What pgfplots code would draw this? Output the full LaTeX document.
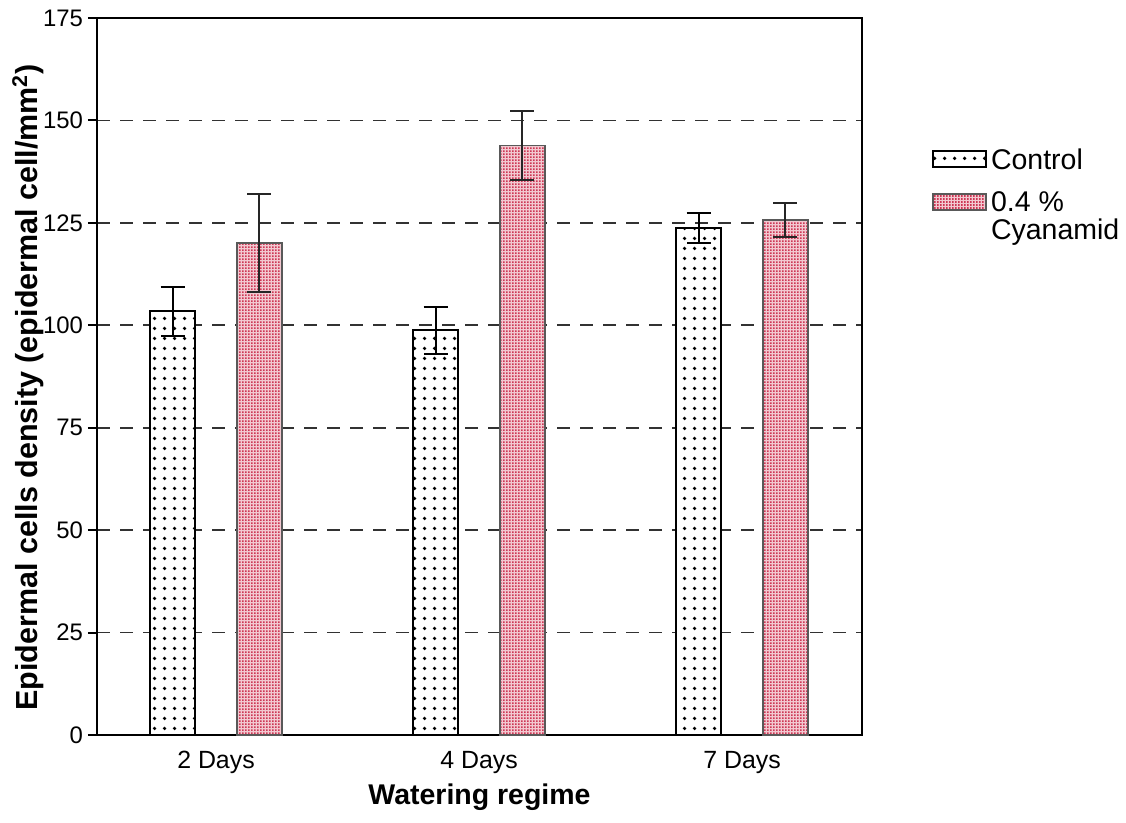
\documentclass[border=0pt]{standalone}
\usepackage{pgfplots}
\pgfplotsset{compat=1.18}
\usepackage{fontspec}
\setmainfont{Liberation Sans}
\usetikzlibrary{patterns.meta,calc}

% sparse black dots for the control bars
\tikzdeclarepattern{
  name=sparsedots,
  type=uncolored,
  bottom left={(0bp,0bp)},
  top right={(5bp,5bp)},
  tile size={(5bp,5bp)},
  code={\fill (2.5bp,2.5bp) circle (1.0bp);}
}
% fine red check for the cyanamid bars
\tikzdeclarepattern{
  name=finecheck,
  type=uncolored,
  bottom left={(0bp,0bp)},
  top right={(1.6bp,1.6bp)},
  tile size={(1.6bp,1.6bp)},
  code={\fill (0bp,0bp) rectangle (1.05bp,1.05bp);}
}

\definecolor{pinkbase}{RGB}{242,200,208}
\definecolor{checkred}{RGB}{205,55,85}
\definecolor{gridgray}{RGB}{50,50,50}

\tikzset{
  controlbar/.style={draw=black, line width=1bp, fill=white,
    postaction={pattern=sparsedots, pattern color=black}},
  cyanbar/.style={draw=black!65, line width=0.8bp, fill=pinkbase,
    postaction={pattern=finecheck, pattern color=checkred}},
}

\pgfplotstableread{
x      y      e
-0.165 103.4  5.9
0.835  98.8   5.7
1.835  123.8  3.6
}\control
\pgfplotstableread{
x      y      e
0.165  120.1  11.9
1.165  143.9  8.4
2.165  125.7  4.1
}\cyanamid

\begin{document}
\begin{tikzpicture}
\begin{axis}[
  name=ax,
  scale only axis,
  width=382.5bp, height=358.5bp,
  xmin=-0.4525, xmax=2.456,
  ymin=0, ymax=175,
  ytick={0,25,...,175},
  xtick={0,1,2},
  xticklabels={2 Days,4 Days,7 Days},
  x tick style={draw=none},
  ytick pos=left,
  tick align=outside,
  major tick length=4.5bp,
  y tick style={line width=1bp, black},
  axis line style={line width=1bp},
  ymajorgrids,
  grid style={dash pattern=on 6.5bp off 5bp, line width=0.8bp, gridgray},
  /pgf/number format/assume math mode=true,
  tick label style={font=\fontsize{12}{14}\selectfont},
  yticklabel style={xshift=1bp},
  xticklabel style={font=\fontsize{12.5}{14}\selectfont},
  xlabel={Watering regime},
  ylabel={Epidermal cells density (epidermal cell/mm\textsuperscript{2})},
  xlabel style={at={(axis description cs:0.5,-0.0865)}, anchor=center,
    font=\fontsize{14.3}{16}\selectfont\bfseries},
  ylabel style={at={(axis description cs:-0.09,0.485)}, anchor=center,
    font=\fontsize{15.3}{17}\selectfont\bfseries},
  bar width=0.171,
  legend style={at={(axis description cs:1.0915,0.818)}, anchor=north west,
    draw=none, fill=none, inner sep=0pt, outer sep=0pt,
    row sep=9bp, column sep=2bp,
    font=\fontsize{14.3}{15.5}\selectfont,
    nodes={anchor=base west, inner sep=0pt}},
  legend cell align=left,
  legend image code/.code={\draw[#1] (0bp,0.9bp) rectangle (26.5bp,8.9bp);},
]
\addplot[ybar, bar shift=0pt, controlbar] table[x=x, y=y] {\control};
\addlegendentry{Control}
\addplot[ybar, bar shift=0pt, cyanbar] table[x=x, y=y] {\cyanamid};
\addlegendentry{\begin{tabular}[t]{@{}l@{}}0.4 \%\\[-1.5bp]Cyanamid\end{tabular}}

% error bars
\addplot[draw=none, forget plot,
  error bars/.cd, y dir=both, y explicit,
  error bar style={draw=black, line width=1bp, solid},
  error mark options={draw=black, rotate=90, mark size=6bp, line width=1bp, solid}]
  table[x=x, y=y, y error=e] {\control};
\addplot[draw=none, forget plot,
  error bars/.cd, y dir=both, y explicit,
  error bar style={draw=black!85, line width=1bp, solid},
  error mark options={draw=black!85, rotate=90, mark size=6bp, line width=1bp, solid}]
  table[x=x, y=y, y error=e] {\cyanamid};
\end{axis}
\useasboundingbox ($(ax.south west)+(-48.5bp,-44bp)$) rectangle ($(ax.north east)+(132bp,9bp)$);
\end{tikzpicture}
\end{document}
